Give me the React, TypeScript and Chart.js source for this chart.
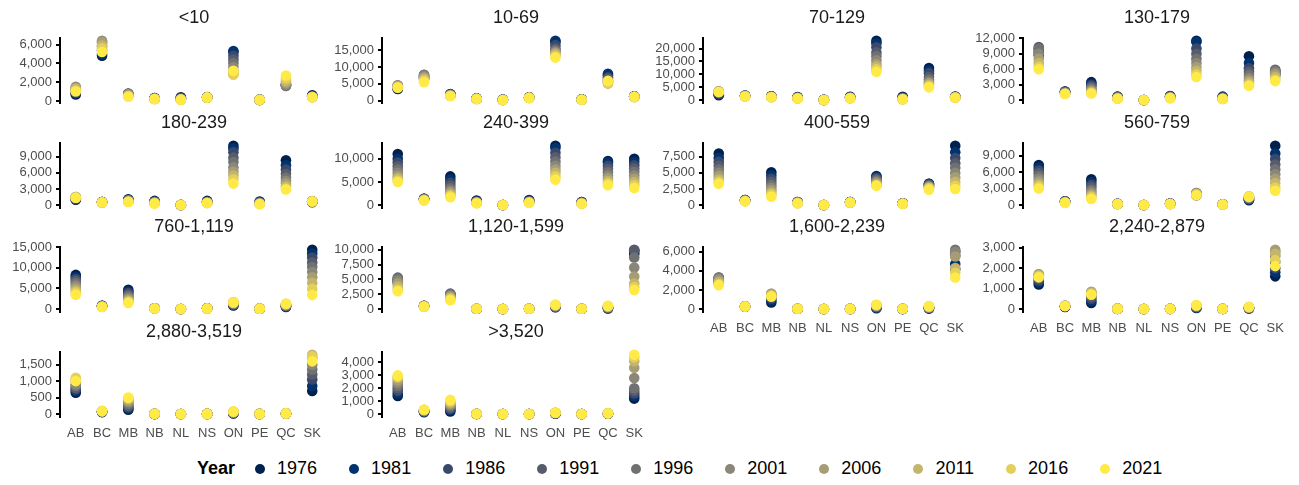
import { useEffect, useRef } from 'react';
import { Chart, registerables } from 'chart.js';

Chart.register(...registerables);

// Provinces on the x axis and census years (one colour per year)
const PROVINCES = ['AB', 'BC', 'MB', 'NB', 'NL', 'NS', 'ON', 'PE', 'QC', 'SK'];
const YEARS = ['1976', '1981', '1986', '1991', '1996', '2001', '2006', '2011', '2016', '2021'];
const YEAR_COLORS = ['#00204D', '#00336F', '#39486B', '#575C6D', '#707173', '#8A8779', '#A69D75', '#C4B56C', '#E4CF5B', '#FFEA46'];

// Number of farms per farm-size class: one row per province (AB..SK), one value per census year (1976..2021)
const FARMS_LT10 = [
  [700, 800, 900, 1100, 1300, 1500, 1400, 1300, 1100, 1000],
  [4800, 5000, 5400, 5800, 6200, 6400, 6300, 5900, 5600, 5200],
  [600, 700, 750, 800, 750, 700, 650, 550, 500, 450],
  [300, 300, 280, 260, 250, 240, 230, 220, 210, 200],
  [400, 350, 300, 250, 200, 180, 170, 160, 150, 140],
  [400, 420, 400, 380, 370, 360, 350, 350, 360, 380],
  [5200, 5300, 4800, 4400, 4000, 3600, 3200, 2900, 2800, 3200],
  [150, 140, 130, 120, 110, 100, 100, 110, 120, 130],
  [1700, 1800, 1700, 1650, 1600, 1700, 1900, 2100, 2400, 2700],
  [600, 550, 500, 480, 450, 430, 420, 410, 400, 400],
];
const FARMS_10_69 = [
  [3500, 3600, 3800, 4200, 4500, 4600, 4400, 4200, 4000, 3900],
  [6500, 7000, 7300, 7700, 7600, 7500, 7000, 6500, 6000, 5500],
  [1900, 2000, 1900, 1800, 1700, 1700, 1600, 1500, 1400, 1400],
  [700, 700, 650, 650, 600, 600, 600, 550, 550, 500],
  [350, 330, 300, 300, 280, 260, 250, 240, 230, 220],
  [1000, 1000, 950, 950, 900, 900, 900, 850, 850, 850],
  [17500, 17800, 16500, 15500, 15000, 14500, 14200, 13800, 13200, 12800],
  [450, 430, 400, 380, 350, 330, 320, 310, 300, 300],
  [7600, 8000, 7000, 6500, 6000, 5800, 5600, 5100, 5300, 5900],
  [1300, 1300, 1250, 1250, 1200, 1200, 1150, 1150, 1100, 1200],
];
const FARMS_70_129 = [
  [2000, 2200, 2600, 2900, 3200, 3500, 3400, 3300, 3200, 3200],
  [1700, 1800, 1800, 1750, 1700, 1700, 1600, 1550, 1500, 1500],
  [1600, 1600, 1500, 1500, 1400, 1400, 1300, 1250, 1200, 1200],
  [1300, 1200, 1100, 1000, 950, 900, 850, 800, 750, 700],
  [200, 190, 180, 170, 160, 150, 140, 130, 120, 110],
  [1400, 1300, 1200, 1100, 1000, 950, 900, 850, 800, 800],
  [23000, 22000, 20500, 18500, 17000, 15500, 14000, 13000, 12000, 11000],
  [1400, 1200, 1000, 800, 700, 600, 500, 450, 400, 400],
  [12500, 11500, 10500, 9000, 8000, 7200, 6600, 6000, 5500, 5000],
  [1500, 1400, 1300, 1250, 1200, 1150, 1100, 1100, 1050, 1000],
];
const FARMS_130_179 = [
  [8700, 9300, 9800, 10300, 10000, 9000, 8000, 7200, 6500, 6000],
  [1700, 1700, 1650, 1600, 1500, 1400, 1350, 1300, 1250, 1200],
  [3500, 3200, 2900, 2600, 2300, 2000, 1800, 1600, 1400, 1300],
  [700, 650, 600, 550, 500, 450, 400, 350, 320, 300],
  [60, 60, 55, 55, 50, 50, 45, 45, 40, 40],
  [800, 750, 700, 650, 600, 550, 500, 450, 420, 400],
  [11500, 11300, 10000, 9000, 8000, 7200, 6400, 5700, 5000, 4500],
  [700, 600, 500, 450, 400, 350, 300, 280, 260, 250],
  [8500, 7200, 6200, 5500, 4900, 4300, 3800, 3400, 3000, 2800],
  [5000, 5300, 5600, 5900, 5800, 5400, 5000, 4500, 4000, 3700],
];
const FARMS_180_239 = [
  [1000, 1100, 1200, 1300, 1400, 1500, 1500, 1400, 1400, 1400],
  [600, 600, 600, 580, 560, 550, 540, 520, 500, 500],
  [1100, 1000, 950, 900, 850, 800, 750, 700, 650, 600],
  [800, 700, 650, 600, 550, 500, 450, 400, 350, 300],
  [60, 55, 50, 50, 45, 45, 40, 40, 40, 35],
  [800, 700, 650, 600, 550, 500, 450, 420, 400, 400],
  [11000, 10500, 9800, 8800, 8000, 7000, 6200, 5500, 4800, 4000],
  [700, 600, 500, 450, 400, 350, 300, 260, 230, 200],
  [8300, 7400, 6600, 5800, 5100, 4500, 4000, 3500, 3100, 2900],
  [550, 650, 700, 720, 730, 750, 740, 720, 700, 680],
];
const FARMS_240_399 = [
  [11000, 10000, 9200, 8400, 7700, 7000, 6300, 5800, 5300, 5000],
  [1400, 1400, 1350, 1300, 1250, 1200, 1150, 1100, 1050, 1000],
  [6200, 5500, 4800, 4200, 3600, 3100, 2700, 2300, 2000, 1700],
  [1000, 900, 800, 700, 650, 600, 550, 500, 450, 400],
  [50, 50, 45, 45, 40, 40, 40, 35, 35, 30],
  [1100, 1000, 900, 800, 750, 700, 650, 600, 550, 500],
  [12800, 12300, 11300, 10300, 9400, 8500, 7700, 7000, 6200, 5500],
  [700, 650, 600, 550, 500, 450, 400, 350, 320, 300],
  [9500, 9200, 8500, 7800, 7100, 6400, 5800, 5200, 4700, 4300],
  [10000, 9300, 8600, 7900, 7200, 6400, 5700, 5000, 4300, 3700],
];
const FARMS_400_559 = [
  [8000, 7300, 6700, 6100, 5500, 5000, 4500, 4000, 3600, 3300],
  [800, 800, 750, 750, 700, 700, 650, 650, 600, 600],
  [5100, 4600, 4100, 3600, 3100, 2700, 2300, 1900, 1600, 1300],
  [500, 500, 450, 450, 400, 400, 350, 350, 300, 300],
  [30, 30, 30, 30, 25, 25, 25, 20, 20, 20],
  [500, 500, 480, 460, 440, 420, 400, 400, 400, 400],
  [4500, 4400, 4200, 4000, 3800, 3600, 3400, 3200, 3100, 3000],
  [300, 300, 300, 280, 260, 250, 240, 230, 220, 200],
  [3300, 3300, 3200, 3100, 3000, 2900, 2800, 2700, 2600, 2400],
  [9200, 8200, 7300, 6500, 5800, 5000, 4300, 3600, 3000, 2500],
];
const FARMS_560_759 = [
  [7300, 6800, 6300, 5800, 5300, 4800, 4300, 3800, 3400, 3000],
  [700, 700, 650, 650, 600, 550, 500, 450, 450, 400],
  [4700, 4200, 3700, 3300, 2800, 2400, 2000, 1700, 1400, 1100],
  [250, 250, 240, 230, 220, 210, 200, 200, 190, 180],
  [20, 20, 20, 20, 15, 15, 15, 15, 10, 10],
  [300, 280, 260, 250, 240, 230, 220, 210, 200, 200],
  [1800, 1900, 2000, 2100, 2200, 2200, 2100, 2000, 1900, 1800],
  [150, 150, 150, 140, 130, 120, 120, 110, 110, 100],
  [900, 1000, 1100, 1200, 1300, 1400, 1500, 1550, 1600, 1500],
  [10800, 9400, 8400, 7400, 6500, 5600, 4800, 4000, 3200, 2600],
];
const FARMS_760_1119 = [
  [8300, 7800, 7300, 6800, 6300, 5700, 5100, 4500, 4000, 3500],
  [800, 800, 750, 700, 700, 650, 600, 600, 550, 500],
  [4700, 4300, 3900, 3500, 3100, 2700, 2300, 2000, 1700, 1500],
  [200, 200, 200, 200, 200, 190, 180, 170, 160, 150],
  [20, 20, 20, 20, 20, 20, 15, 15, 15, 15],
  [200, 200, 200, 200, 200, 190, 180, 170, 160, 150],
  [900, 1000, 1100, 1200, 1300, 1400, 1500, 1600, 1700, 1600],
  [100, 100, 110, 110, 120, 120, 120, 110, 110, 100],
  [500, 600, 700, 800, 900, 1000, 1100, 1200, 1300, 1300],
  [14400, 13500, 12500, 11300, 10200, 9000, 7700, 6400, 4900, 3400],
];
const FARMS_1120_1599 = [
  [4500, 4800, 5000, 5300, 5200, 4800, 4300, 3800, 3300, 3000],
  [500, 500, 500, 550, 550, 550, 500, 500, 450, 400],
  [2200, 2400, 2500, 2600, 2500, 2300, 2100, 1900, 1700, 1500],
  [60, 60, 60, 60, 60, 60, 60, 60, 60, 60],
  [10, 10, 10, 10, 10, 10, 10, 10, 10, 10],
  [50, 50, 50, 50, 50, 50, 50, 50, 50, 50],
  [300, 350, 400, 450, 500, 550, 600, 650, 700, 750],
  [50, 50, 50, 60, 60, 60, 60, 60, 60, 60],
  [100, 150, 200, 250, 300, 350, 400, 450, 500, 550],
  [9300, 9700, 9900, 10000, 8700, 7000, 5500, 4300, 3700, 3200],
];
const FARMS_1600_2239 = [
  [2800, 3000, 3200, 3300, 3300, 3200, 3000, 2800, 2600, 2500],
  [250, 260, 270, 280, 290, 300, 290, 280, 270, 260],
  [700, 900, 1100, 1300, 1500, 1600, 1600, 1500, 1400, 1300],
  [30, 30, 35, 35, 40, 40, 40, 35, 35, 30],
  [5, 5, 5, 5, 5, 5, 5, 5, 5, 5],
  [20, 20, 20, 20, 25, 25, 25, 25, 20, 20],
  [100, 150, 200, 250, 300, 350, 380, 400, 420, 450],
  [20, 20, 25, 25, 30, 30, 30, 30, 30, 30],
  [50, 80, 110, 140, 170, 200, 230, 260, 280, 300],
  [4200, 4700, 5600, 6000, 6200, 6000, 5500, 4300, 3800, 3300],
];
const FARMS_2240_2879 = [
  [1200, 1300, 1400, 1500, 1600, 1700, 1700, 1650, 1600, 1550],
  [100, 120, 130, 140, 150, 160, 170, 160, 150, 150],
  [300, 400, 500, 600, 700, 800, 850, 800, 750, 700],
  [10, 10, 15, 15, 20, 20, 20, 20, 15, 15],
  [2, 2, 2, 2, 2, 2, 2, 2, 2, 2],
  [10, 10, 10, 10, 10, 10, 10, 10, 10, 10],
  [50, 70, 90, 110, 130, 150, 160, 170, 180, 190],
  [10, 10, 10, 10, 10, 10, 10, 10, 10, 10],
  [30, 40, 50, 60, 70, 80, 90, 100, 100, 100],
  [1600, 1800, 2000, 2300, 2600, 2800, 2900, 2700, 2400, 2100],
];
const FARMS_2880_3519 = [
  [650, 700, 750, 800, 850, 900, 1000, 1050, 1100, 1000],
  [60, 65, 70, 75, 80, 85, 90, 90, 90, 90],
  [130, 170, 210, 250, 300, 350, 400, 450, 480, 500],
  [5, 5, 5, 8, 8, 10, 10, 10, 10, 10],
  [1, 1, 1, 1, 1, 1, 1, 1, 1, 1],
  [5, 5, 5, 5, 5, 5, 5, 5, 5, 5],
  [20, 25, 30, 35, 40, 50, 60, 70, 75, 80],
  [5, 5, 5, 5, 5, 5, 5, 5, 5, 5],
  [10, 12, 14, 16, 18, 20, 20, 20, 20, 20],
  [700, 850, 1050, 1200, 1350, 1500, 1700, 1800, 1750, 1600],
];
const FARMS_GT3520 = [
  [1400, 1600, 1800, 2000, 2200, 2400, 2600, 2800, 2900, 3000],
  [150, 180, 200, 220, 250, 280, 300, 320, 330, 350],
  [200, 300, 400, 500, 600, 700, 800, 900, 1000, 1100],
  [10, 15, 15, 20, 20, 25, 25, 30, 30, 30],
  [2, 2, 2, 2, 2, 2, 2, 2, 2, 2],
  [10, 10, 10, 10, 10, 10, 10, 10, 10, 10],
  [30, 40, 50, 60, 70, 80, 90, 100, 100, 100],
  [10, 10, 10, 10, 10, 10, 10, 10, 10, 10],
  [20, 25, 30, 35, 40, 45, 50, 55, 60, 60],
  [1200, 1400, 1600, 1800, 2000, 2800, 3600, 4100, 4400, 4600],
];

// Facet titles and y tick values
const SIZE_CLASSES = ['<10', '10-69', '70-129', '130-179', '180-239', '240-399', '400-559', '560-759', '760-1,119', '1,120-1,599', '1,600-2,239', '2,240-2,879', '2,880-3,519', '>3,520'];
const TICKS_LT10 = [0, 2000, 4000, 6000];
const TICKS_10_69 = [0, 5000, 10000, 15000];
const TICKS_70_129 = [0, 5000, 10000, 15000, 20000];
const TICKS_130_179 = [0, 3000, 6000, 9000, 12000];
const TICKS_180_239 = [0, 3000, 6000, 9000];
const TICKS_240_399 = [0, 5000, 10000];
const TICKS_400_559 = [0, 2500, 5000, 7500];
const TICKS_560_759 = [0, 3000, 6000, 9000];
const TICKS_760_1119 = [0, 5000, 10000, 15000];
const TICKS_1120_1599 = [0, 2500, 5000, 7500, 10000];
const TICKS_1600_2239 = [0, 2000, 4000, 6000];
const TICKS_2240_2879 = [0, 1000, 2000, 3000];
const TICKS_2880_3519 = [0, 500, 1000, 1500];
const TICKS_GT3520 = [0, 1000, 2000, 3000, 4000];

const PANEL_VALUES = [FARMS_LT10, FARMS_10_69, FARMS_70_129, FARMS_130_179, FARMS_180_239, FARMS_240_399, FARMS_400_559, FARMS_560_759, FARMS_760_1119, FARMS_1120_1599, FARMS_1600_2239, FARMS_2240_2879, FARMS_2880_3519, FARMS_GT3520];
const PANEL_TICKS = [TICKS_LT10, TICKS_10_69, TICKS_70_129, TICKS_130_179, TICKS_180_239, TICKS_240_399, TICKS_400_559, TICKS_560_759, TICKS_760_1119, TICKS_1120_1599, TICKS_1600_2239, TICKS_2240_2879, TICKS_2880_3519, TICKS_GT3520];

// Facet grid geometry
const COL_LEFT = [60, 382, 703, 1023];
const ROW_TOP = [38, 143, 247, 352];
const PLOT_W = 268;
const PLOT_H = 65;
const AXIS_W = 60;
const TITLE_SIZE = 18;
const TITLE_H = 30.8;
const RIGHT_PAD = 6;
const FONT = '"Liberation Sans", Arial, sans-serif';
const fmt = (v: number) => v.toLocaleString('en-US');

function Panel({ index }: { index: number }) {
  const ref = useRef<HTMLCanvasElement>(null);
  const col = index % 4;
  const row = Math.floor(index / 4);
  // x labels shown on the lowest panel of each column
  const showX = index + 4 >= SIZE_CLASSES.length;
  const xH = showX ? 26 : 6;
  const width = AXIS_W + PLOT_W + RIGHT_PAD;
  const height = Math.ceil(TITLE_H + PLOT_H + xH);

  useEffect(() => {
    const values = PANEL_VALUES[index];
    const ticks = PANEL_TICKS[index];
    const all = values.flat();
    const lo = Math.min(...all);
    const hi = Math.max(...all);
    const pad = (hi - lo) * 0.05;

    const datasets = YEARS.map((year, yi) => ({
      label: year,
      data: PROVINCES.map((_, pi) => ({ x: pi, y: values[pi][yi] })),
      backgroundColor: YEAR_COLORS[yi],
      borderWidth: 0,
      pointRadius: 5.3,
      pointHoverRadius: 5.3,
      clip: false as const,
      order: YEARS.length - yi,
    }));

    const chart = new Chart(ref.current!, {
      type: 'scatter',
      data: { datasets },
      options: {
        animation: false,
        responsive: false,
        devicePixelRatio: 1,
        layout: { padding: { left: 0, right: RIGHT_PAD, top: 0, bottom: 0 } },
        plugins: {
          legend: { display: false },
          tooltip: { enabled: false },
          title: {
            display: true,
            text: SIZE_CLASSES[index],
            fullSize: false,
            color: '#1a1a1a',
            font: { family: FONT, size: TITLE_SIZE, weight: 'normal', lineHeight: 1.2 },
            padding: { top: 0, bottom: TITLE_H - TITLE_SIZE * 1.2 },
          },
        },
        scales: {
          x: {
            type: 'linear',
            min: -0.6,
            max: 9.6,
            grid: { display: false },
            border: { display: false },
            afterBuildTicks: (s: any) => {
              s.ticks = PROVINCES.map((_, i) => ({ value: i }));
            },
            ticks: {
              display: showX,
              autoSkip: false,
              maxRotation: 0,
              padding: 1,
              color: '#4d4d4d',
              font: { family: FONT, size: 13 },
              callback: (v: any) => PROVINCES[Math.round(Number(v))] ?? '',
            },
            afterFit: (s: any) => {
              s.height = xH;
              s.paddingLeft = 0;
              s.paddingRight = 0;
            },
          },
          y: {
            type: 'linear',
            min: lo - pad,
            max: hi + pad,
            border: { display: true, color: '#000', width: 2 },
            grid: { display: true, drawOnChartArea: false, drawTicks: true, tickLength: 4, color: '#000', lineWidth: 2 },
            afterBuildTicks: (s: any) => {
              s.ticks = ticks.map((v) => ({ value: v }));
            },
            ticks: {
              autoSkip: false,
              padding: 4,
              color: '#4d4d4d',
              font: { family: FONT, size: 13 },
              callback: (v: any) => fmt(Number(v)),
            },
            afterFit: (s: any) => {
              s.width = AXIS_W;
              s.paddingTop = 0;
              s.paddingBottom = 0;
            },
          },
        },
      },
    });
    return () => chart.destroy();
  }, [index]);

  return (
    <canvas
      ref={ref}
      width={width}
      height={height}
      style={{
        position: 'absolute',
        left: COL_LEFT[col] - AXIS_W,
        top: ROW_TOP[row] - TITLE_H,
        width,
        height,
      }}
    />
  );
}

function Legend() {
  return (
    <div
      style={{
        position: 'absolute',
        left: 197,
        top: 458,
        display: 'flex',
        alignItems: 'center',
        fontFamily: FONT,
        fontSize: 18,
        color: '#000',
        whiteSpace: 'nowrap',
      }}
    >
      <span style={{ fontWeight: 'bold', marginRight: 20 }}>Year</span>
      {YEARS.map((y, i) => (
        <span key={y} style={{ display: 'flex', alignItems: 'center', marginRight: i < YEARS.length - 1 ? 32 : 0 }}>
          <span style={{ width: 10, height: 10, borderRadius: '50%', background: YEAR_COLORS[i], marginRight: 12, display: 'inline-block' }} />
          <span>{y}</span>
        </span>
      ))}
    </div>
  );
}

export default function App() {
  return (
    <div style={{ position: 'absolute', left: 0, top: 0, width: 1299, height: 485, background: '#fff', overflow: 'hidden' }}>
      {SIZE_CLASSES.map((_, i) => (
        <Panel key={i} index={i} />
      ))}
      <Legend />
    </div>
  );
}
